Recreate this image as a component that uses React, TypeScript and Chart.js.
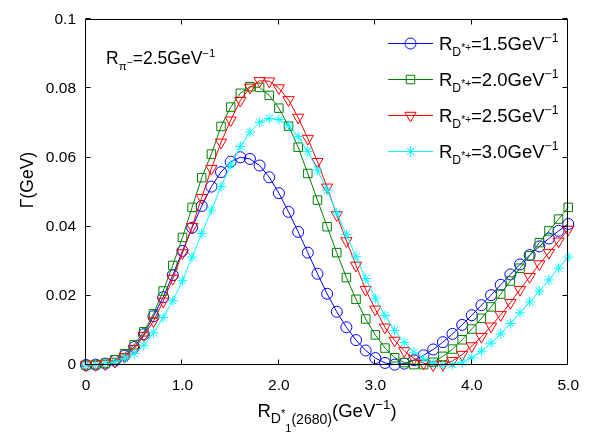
import React, { useEffect, useRef } from "react";
import { Chart, registerables } from "chart.js";

Chart.register(...registerables);

// ---------- data ----------
const xValues = [
  0, 0.1, 0.2, 0.3, 0.4, 0.5, 0.6, 0.7, 0.8, 0.9,
  1.0, 1.1, 1.2, 1.3, 1.4, 1.5, 1.6, 1.7, 1.8, 1.9,
  2.0, 2.1, 2.2, 2.3, 2.4, 2.5, 2.6, 2.7, 2.8, 2.9,
  3.0, 3.1, 3.2, 3.3, 3.4, 3.5, 3.6, 3.7, 3.8, 3.9,
  4.0, 4.1, 4.2, 4.3, 4.4, 4.5, 4.6, 4.7, 4.8, 4.9, 5.0,
];

const seriesNames = ["1.5", "2.0", "2.5", "3.0"];

const series15 = [
  0, 0.0001, 0.0004, 0.0012, 0.0027, 0.0052, 0.0089, 0.0141, 0.0196, 0.026,
  0.033, 0.0397, 0.046, 0.0516, 0.0558, 0.0588, 0.0601, 0.0596, 0.0577, 0.0543,
  0.0497, 0.0443, 0.0385, 0.0325, 0.0264, 0.0206, 0.0154, 0.0109, 0.0072, 0.0042,
  0.002, 0.0006, 0.0001, 0.0004, 0.0014, 0.0028, 0.0045, 0.0066, 0.009, 0.0116,
  0.0144, 0.0173, 0.0202, 0.0232, 0.0262, 0.0291, 0.0318, 0.0343, 0.0366, 0.0388, 0.0408,
];

const series20 = [
  0, 0.0001, 0.0005, 0.0015, 0.0033, 0.0059, 0.0096, 0.0148, 0.0214, 0.0288,
  0.0369, 0.0456, 0.0542, 0.061, 0.069, 0.0746, 0.0786, 0.0805, 0.0803, 0.078,
  0.0743, 0.0691, 0.063, 0.0554, 0.0477, 0.04, 0.0325, 0.0253, 0.019, 0.0133,
  0.0087, 0.0049, 0.0021, 0.0007, 0.0001, 0.0001, 0.0008, 0.0025, 0.0046, 0.0073,
  0.0104, 0.0135, 0.0168, 0.0205, 0.0243, 0.028, 0.0316, 0.0354, 0.0388, 0.0422, 0.0456,
];

const series25 = [
  0, 0.0001, 0.0003, 0.001, 0.0024, 0.0047, 0.0085, 0.0127, 0.0184, 0.025,
  0.0324, 0.04, 0.0484, 0.0568, 0.0644, 0.0708, 0.0765, 0.0803, 0.0822, 0.0821,
  0.0801, 0.0767, 0.0716, 0.0655, 0.0588, 0.0514, 0.0434, 0.0359, 0.0288, 0.0218,
  0.0161, 0.0109, 0.0071, 0.0041, 0.0019, 0.0005, 0.0, 0.0001, 0.0012, 0.003,
  0.0055, 0.0082, 0.0112, 0.0145, 0.018, 0.0218, 0.0255, 0.0292, 0.0325, 0.0358, 0.0392,
];

const series30 = [
  0, 0.0001, 0.0003, 0.0009, 0.0019, 0.0033, 0.0057, 0.0093, 0.0137, 0.0186,
  0.0244, 0.0312, 0.038, 0.0448, 0.0516, 0.0578, 0.0632, 0.0674, 0.0702, 0.0713,
  0.071, 0.0692, 0.0661, 0.0618, 0.0564, 0.0506, 0.044, 0.0377, 0.0313, 0.025,
  0.0193, 0.0143, 0.01, 0.0065, 0.0037, 0.0017, 0.0005, 0.0, 0.0001, 0.0008,
  0.0021, 0.004, 0.0063, 0.009, 0.012, 0.0151, 0.0182, 0.0214, 0.0246, 0.028, 0.0312,
];

const xTickValues = [0, 1, 2, 3, 4, 5];
const xTickLabels = ["0", "1.0", "2.0", "3.0", "4.0", "5.0"];
const yTickValues = [0, 0.02, 0.04, 0.06, 0.08, 0.1];
const yTickLabels = ["0", "0.02", "0.04", "0.06", "0.08", "0.1"];

// ---------- styling ----------
const FONT = "'Liberation Sans', Arial, Helvetica, sans-serif";
const COLORS = ["#0000ff", "#008000", "#ff0000", "#00ffff"];
const STYLES = ["circle", "rect", "triangle", "star"];
const RADII = [5.5, 6, 6.5, 5];
const ROTATIONS = [0, 0, 180, 0];

type Seg = { t: string; s: number; dy: number };

function drawRich(
  ctx: CanvasRenderingContext2D,
  x: number,
  y: number,
  segs: Seg[],
  size: number,
  align: "left" | "center"
) {
  let w = 0;
  for (const g of segs) {
    ctx.font = `${size * g.s}px ${FONT}`;
    w += ctx.measureText(g.t).width;
  }
  let cx = align === "center" ? x - w / 2 : x;
  ctx.textAlign = "left";
  ctx.textBaseline = "alphabetic";
  for (const g of segs) {
    ctx.font = `${size * g.s}px ${FONT}`;
    ctx.fillText(g.t, cx, y + g.dy * size);
    cx += ctx.measureText(g.t).width;
  }
}

function drawMarker(
  ctx: CanvasRenderingContext2D,
  style: string,
  x: number,
  y: number,
  r: number,
  color: string
) {
  ctx.save();
  ctx.strokeStyle = color;
  ctx.lineWidth = 1;
  ctx.beginPath();
  if (style === "circle") {
    ctx.arc(x, y, r, 0, Math.PI * 2);
  } else if (style === "rect") {
    const s = r * Math.SQRT1_2;
    ctx.rect(x - s, y - s, 2 * s, 2 * s);
  } else if (style === "triangle") {
    ctx.moveTo(x - r * 0.866, y - r * 0.5);
    ctx.lineTo(x + r * 0.866, y - r * 0.5);
    ctx.lineTo(x, y + r);
    ctx.closePath();
  } else {
    for (let k = 0; k < 4; k++) {
      const a = (k * Math.PI) / 4;
      ctx.moveTo(x - Math.cos(a) * r, y - Math.sin(a) * r);
      ctx.lineTo(x + Math.cos(a) * r, y + Math.sin(a) * r);
    }
  }
  ctx.stroke();
  ctx.restore();
}

const framePlugin = {
  id: "matlabFrame",
  afterDraw(chart: any) {
    const ctx: CanvasRenderingContext2D = chart.ctx;
    const { left, right, top, bottom } = chart.chartArea;
    const xs = chart.scales.x;
    const ys = chart.scales.y;
    ctx.save();
    ctx.strokeStyle = "#000";
    ctx.lineWidth = 1;
    const L = Math.round(left) - 0.5;
    const R = Math.round(right) - 0.5;
    const T = Math.round(top) + 0.5;
    const B = Math.round(bottom) - 0.5;
    ctx.beginPath();
    ctx.rect(L, T, R - L, B - T);
    ctx.stroke();
    const tl = 5;
    ctx.beginPath();
    for (const v of xTickValues) {
      const px = Math.round(xs.getPixelForValue(v)) - 0.5;
      ctx.moveTo(px, B);
      ctx.lineTo(px, B - tl);
      ctx.moveTo(px, T);
      ctx.lineTo(px, T + tl);
    }
    for (const v of yTickValues) {
      const py = Math.round(ys.getPixelForValue(v)) - 0.5;
      ctx.moveTo(L, py);
      ctx.lineTo(L + tl, py);
      ctx.moveTo(R, py);
      ctx.lineTo(R - tl, py);
    }
    ctx.stroke();

    ctx.fillStyle = "#000";

    // legend
    const legendY = [43.5, 79.5, 115.5, 151.5];
    for (let i = 0; i < seriesNames.length; i++) {
      const y = legendY[i];
      ctx.strokeStyle = COLORS[i];
      ctx.lineWidth = 1;
      ctx.beginPath();
      ctx.moveTo(388, y);
      ctx.lineTo(433, y);
      ctx.stroke();
      drawMarker(ctx, STYLES[i], 410.5, y, RADII[i], COLORS[i]);
      ctx.fillStyle = "#000";
      drawRich(
        ctx,
        439,
        y + 6.5,
        [
          { t: "R", s: 1, dy: 0 },
          { t: "D", s: 0.66, dy: 0.32 },
          { t: "*+", s: 0.55, dy: 0.04 },
          { t: "=" + seriesNames[i] + "GeV", s: 1, dy: 0 },
          { t: "\u22121", s: 0.66, dy: -0.42 },
        ],
        18.5,
        "left"
      );
    }

    // annotation
    drawRich(
      ctx,
      106,
      64,
      [
        { t: "R", s: 1, dy: 0 },
        { t: "\u03c0", s: 0.66, dy: 0.34 },
        { t: "\u2212", s: 0.6, dy: 0.12 },
        { t: "=2.5GeV", s: 1, dy: 0 },
        { t: "\u22121", s: 0.66, dy: -0.42 },
      ],
      17.5,
      "left"
    );

    // x title
    drawRich(
      ctx,
      327,
      417,
      [
        { t: "R", s: 1, dy: 0 },
        { t: "D", s: 0.76, dy: 0.3 },
        { t: "*", s: 0.6, dy: 0.0 },
        { t: "1", s: 0.6, dy: 0.8 },
        { t: "(2680)", s: 0.76, dy: 0.4 },
        { t: "(GeV", s: 1, dy: 0 },
        { t: "\u22121", s: 0.72, dy: -0.42 },
        { t: ")", s: 1, dy: 0 },
      ],
      18.5,
      "center"
    );

    // y title
    ctx.save();
    ctx.translate(28, 180);
    ctx.rotate(-Math.PI / 2);
    ctx.font = `17.5px ${FONT}`;
    ctx.textAlign = "center";
    ctx.textBaseline = "middle";
    ctx.fillText("\u0393(GeV)", 0, 0);
    ctx.restore();

    ctx.restore();
  },
};

export default function App() {
  const ref = useRef<HTMLCanvasElement | null>(null);

  useEffect(() => {
    if (!ref.current) return;
    const all = [series15, series20, series25, series30];
    const datasets = all.map((vals, i) => ({
      label: "R=" + seriesNames[i],
      data: xValues.map((x, j) => ({ x, y: vals[j] })),
      borderColor: COLORS[i],
      backgroundColor: "rgba(0,0,0,0)",
      pointBorderColor: COLORS[i],
      pointBackgroundColor: "rgba(0,0,0,0)",
      pointStyle: STYLES[i],
      pointRadius: RADII[i],
      pointRotation: ROTATIONS[i],
      pointBorderWidth: 1,
      borderWidth: 1,
      tension: 0,
      fill: false,
      clip: false as any,
      order: 3 - i,
    }));

    const chart = new Chart(ref.current, {
      type: "line",
      data: { datasets: datasets as any },
      options: {
        animation: false,
        responsive: false,
        devicePixelRatio: 1,
        layout: { padding: { left: 0, right: 14, top: 12, bottom: 0 } },
        plugins: {
          legend: { display: false },
          tooltip: { enabled: false },
        },
        scales: {
          x: {
            type: "linear",
            min: 0,
            max: 5,
            grid: { display: false, drawTicks: false },
            border: { display: false },
            afterFit: (s: any) => {
              s.height = 71;
            },
            afterBuildTicks: (s: any) => {
              s.ticks = xTickValues.map((v) => ({ value: v }));
            },
            ticks: {
              padding: 11,
              color: "#000",
              font: { family: FONT, size: 15.5 },
              callback: (v: any) => xTickLabels[xTickValues.indexOf(Math.round(Number(v)))] ?? "",
            },
          },
          y: {
            type: "linear",
            min: 0,
            max: 0.1,
            grid: { display: false, drawTicks: false },
            border: { display: false },
            afterFit: (s: any) => {
              s.width = 86;
            },
            afterBuildTicks: (s: any) => {
              s.ticks = yTickValues.map((v) => ({ value: v }));
            },
            ticks: {
              padding: 10,
              color: "#000",
              font: { family: FONT, size: 15.5 },
              callback: (v: any) => {
                const idx = yTickValues.findIndex((t) => Math.abs(t - Number(v)) < 1e-9);
                return idx >= 0 ? yTickLabels[idx] : "";
              },
            },
          },
        },
      },
      plugins: [framePlugin],
    });
    return () => chart.destroy();
  }, []);

  return (
    <div style={{ position: "absolute", left: 0, top: 0, width: 590, height: 436, background: "#fff" }}>
      <canvas ref={ref} width={590} height={436} style={{ display: "block" }} />
    </div>
  );
}
